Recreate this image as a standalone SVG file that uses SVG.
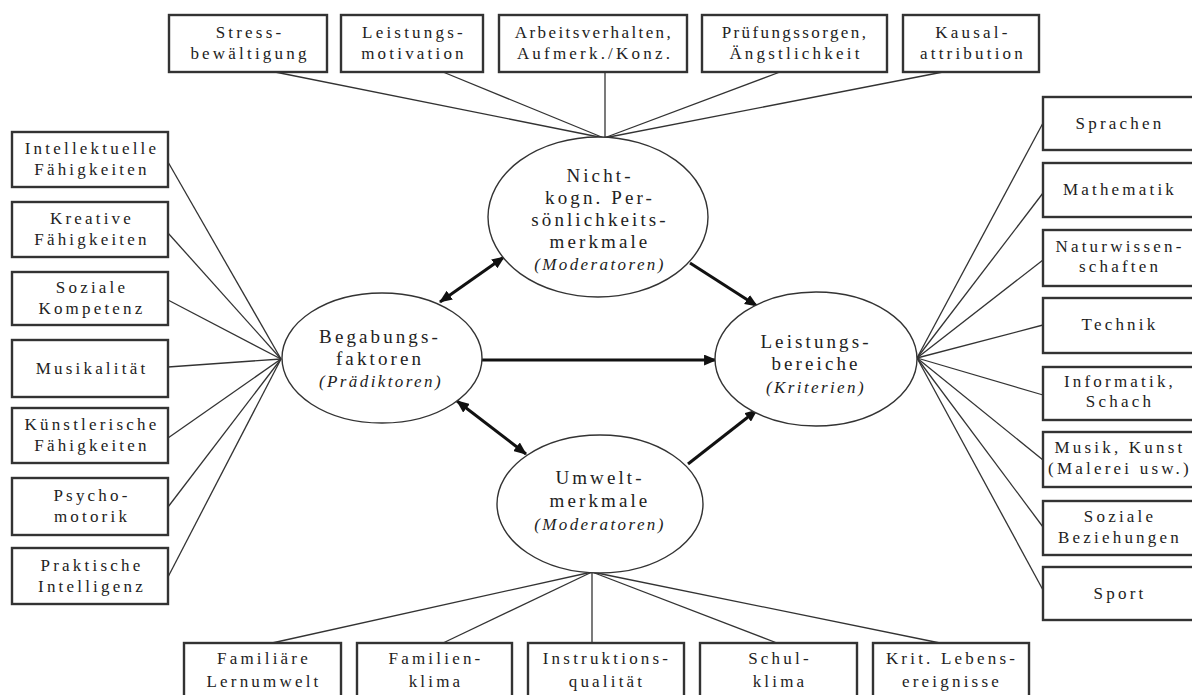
<svg xmlns="http://www.w3.org/2000/svg" width="1192" height="695" viewBox="0 0 1192 695">
  <style>
    .box { fill: #fff; stroke: #333; stroke-width: 2.4; }
    .ell { fill: #fff; stroke: #333; stroke-width: 1.4; }
    .link { stroke: #333; stroke-width: 1.3; fill: none; }
    .arrow { stroke: #111; stroke-width: 3; fill: none; }
    .t { font-family: "Liberation Serif", "Times New Roman", serif; font-size: 17px; letter-spacing: 3.2px; fill: #222; text-anchor: middle; }
    .tight { letter-spacing: 2.4px; }
    .e { font-family: "Liberation Serif", "Times New Roman", serif; font-size: 19px; letter-spacing: 3.1px; fill: #222; text-anchor: middle; }
    .i { font-family: "Liberation Serif", "Times New Roman", serif; font-size: 17px; font-style: italic; letter-spacing: 2.4px; fill: #222; text-anchor: middle; }
  </style>
  <defs>
    <marker id="head" viewBox="0 0 12 10" refX="11" refY="5" markerWidth="13" markerHeight="11" markerUnits="userSpaceOnUse" orient="auto-start-reverse">
      <path d="M0,0 L12,5 L0,10 z" fill="#111"/>
    </marker>
  </defs>
  <rect width="1192" height="695" fill="#fff"/>

  <!-- connectors -->
  <g id="connectors">
    <!-- top fan into the personality ellipse -->
    <line class="link" x1="275" y1="72" x2="604" y2="138"/>
    <line class="link" x1="443" y1="72" x2="604" y2="138"/>
    <line class="link" x1="605" y1="72" x2="605" y2="138"/>
    <line class="link" x1="780" y1="72" x2="604" y2="138"/>
    <line class="link" x1="943" y1="72" x2="604" y2="138"/>
    <!-- left fan into the ability ellipse -->
    <line class="link" x1="168" y1="162" x2="281" y2="359"/>
    <line class="link" x1="168" y1="233" x2="281" y2="359"/>
    <line class="link" x1="168" y1="300" x2="281" y2="359"/>
    <line class="link" x1="168" y1="367" x2="281" y2="359"/>
    <line class="link" x1="168" y1="438" x2="281" y2="359"/>
    <line class="link" x1="168" y1="507" x2="281" y2="359"/>
    <line class="link" x1="168" y1="577" x2="281" y2="359"/>
    <!-- right fan out of the performance ellipse -->
    <line class="link" x1="1043" y1="123" x2="917" y2="358"/>
    <line class="link" x1="1043" y1="193" x2="917" y2="358"/>
    <line class="link" x1="1043" y1="260" x2="917" y2="358"/>
    <line class="link" x1="1043" y1="325" x2="917" y2="358"/>
    <line class="link" x1="1043" y1="395" x2="917" y2="358"/>
    <line class="link" x1="1043" y1="460" x2="917" y2="358"/>
    <line class="link" x1="1043" y1="527" x2="917" y2="358"/>
    <line class="link" x1="1043" y1="590" x2="917" y2="358"/>
    <!-- bottom fan out of the environment ellipse -->
    <line class="link" x1="592" y1="572" x2="272" y2="643"/>
    <line class="link" x1="592" y1="572" x2="443" y2="643"/>
    <line class="link" x1="592" y1="572" x2="592" y2="643"/>
    <line class="link" x1="592" y1="572" x2="777" y2="643"/>
    <line class="link" x1="592" y1="572" x2="940" y2="643"/>
    <!-- central arrows -->
    <line class="arrow" x1="440" y1="302" x2="504" y2="257" marker-start="url(#head)" marker-end="url(#head)"/>
    <line class="arrow" x1="690" y1="263" x2="757" y2="306" marker-end="url(#head)"/>
    <line class="arrow" x1="482" y1="360" x2="716" y2="360" marker-end="url(#head)"/>
    <line class="arrow" x1="457" y1="401" x2="526" y2="454" marker-start="url(#head)" marker-end="url(#head)"/>
    <line class="arrow" x1="688" y1="464" x2="757" y2="410" marker-end="url(#head)"/>
  </g>

  <!-- top row: personality traits -->
  <g id="top-stress"><rect class="box" x="169" y="15" width="158" height="57"/><text class="t" x="250" y="38">Stress-</text><text class="t" x="250" y="59">bewältigung</text></g>
  <g id="top-motivation"><rect class="box" x="341" y="15" width="142" height="57"/><text class="t" x="414" y="38">Leistungs-</text><text class="t" x="414" y="59">motivation</text></g>
  <g id="top-arbeit"><rect class="box" x="499" y="15" width="188" height="57"/><text class="t tight" x="594" y="38">Arbeitsverhalten,</text><text class="t" x="595" y="59">Aufmerk./Konz.</text></g>
  <g id="top-angst"><rect class="box" x="702" y="15" width="185" height="57"/><text class="t tight" x="795" y="38">Prüfungssorgen,</text><text class="t" x="796" y="59">Ängstlichkeit</text></g>
  <g id="top-kausal"><rect class="box" x="903" y="15" width="136" height="57"/><text class="t" x="973" y="38">Kausal-</text><text class="t" x="973" y="59">attribution</text></g>

  <!-- left column: abilities -->
  <g id="left-intellekt"><rect class="box" x="12" y="132" width="156" height="55"/><text class="t" x="92" y="154">Intellektuelle</text><text class="t" x="92" y="175">Fähigkeiten</text></g>
  <g id="left-kreativ"><rect class="box" x="12" y="202" width="156" height="55"/><text class="t" x="92" y="224">Kreative</text><text class="t" x="92" y="245">Fähigkeiten</text></g>
  <g id="left-sozial"><rect class="box" x="12" y="272" width="156" height="53"/><text class="t" x="92" y="293">Soziale</text><text class="t" x="92" y="314">Kompetenz</text></g>
  <g id="left-musik"><rect class="box" x="12" y="340" width="156" height="57"/><text class="t" x="92" y="374">Musikalität</text></g>
  <g id="left-kunst"><rect class="box" x="12" y="408" width="156" height="55"/><text class="t" x="92" y="430">Künstlerische</text><text class="t" x="92" y="451">Fähigkeiten</text></g>
  <g id="left-psycho"><rect class="box" x="12" y="478" width="156" height="57"/><text class="t" x="92" y="501">Psycho-</text><text class="t" x="92" y="522">motorik</text></g>
  <g id="left-praktisch"><rect class="box" x="12" y="548" width="156" height="56"/><text class="t" x="92" y="571">Praktische</text><text class="t" x="92" y="592">Intelligenz</text></g>

  <!-- right column: performance domains -->
  <g id="right-sprachen"><rect class="box" x="1043" y="97" width="160" height="53"/><text class="t" x="1120" y="129">Sprachen</text></g>
  <g id="right-mathe"><rect class="box" x="1043" y="163" width="160" height="54"/><text class="t" x="1120" y="195">Mathematik</text></g>
  <g id="right-natur"><rect class="box" x="1043" y="230" width="160" height="56"/><text class="t" x="1120" y="252">Naturwissen-</text><text class="t" x="1120" y="272">schaften</text></g>
  <g id="right-technik"><rect class="box" x="1043" y="298" width="160" height="55"/><text class="t" x="1120" y="330">Technik</text></g>
  <g id="right-informatik"><rect class="box" x="1043" y="367" width="160" height="53"/><text class="t" x="1120" y="387">Informatik,</text><text class="t" x="1120" y="407">Schach</text></g>
  <g id="right-kunst"><rect class="box" x="1043" y="432" width="160" height="55"/><text class="t" x="1120" y="453">Musik, Kunst</text><text class="t" x="1120" y="474">(Malerei usw.)</text></g>
  <g id="right-sozial"><rect class="box" x="1043" y="501" width="160" height="54"/><text class="t" x="1120" y="522">Soziale</text><text class="t" x="1120" y="543">Beziehungen</text></g>
  <g id="right-sport"><rect class="box" x="1043" y="567" width="160" height="53"/><text class="t" x="1120" y="599">Sport</text></g>

  <!-- bottom row: environment -->
  <g id="bottom-lernumwelt"><rect class="box" x="184" y="643" width="157" height="60"/><text class="t" x="264" y="664">Familiäre</text><text class="t" x="264" y="687">Lernumwelt</text></g>
  <g id="bottom-familienklima"><rect class="box" x="357" y="643" width="155" height="60"/><text class="t" x="436" y="664">Familien-</text><text class="t" x="436" y="687">klima</text></g>
  <g id="bottom-instruktion"><rect class="box" x="528" y="643" width="156" height="60"/><text class="t" x="607" y="664">Instruktions-</text><text class="t" x="607" y="687">qualität</text></g>
  <g id="bottom-schulklima"><rect class="box" x="700" y="643" width="157" height="60"/><text class="t" x="780" y="664">Schul-</text><text class="t" x="780" y="687">klima</text></g>
  <g id="bottom-lebensereignisse"><rect class="box" x="873" y="643" width="156" height="60"/><text class="t" x="952" y="664">Krit. Lebens-</text><text class="t" x="952" y="687">ereignisse</text></g>

  <!-- central ellipses -->
  <g id="node-persoenlichkeit">
    <ellipse class="ell" cx="598" cy="217" rx="110" ry="80"/>
    <text class="e" x="600" y="182">Nicht-</text>
    <text class="e" x="600" y="204">kogn. Per-</text>
    <text class="e" x="600" y="226">sönlichkeits-</text>
    <text class="e" x="600" y="248">merkmale</text>
    <text class="i" x="600" y="270">(Moderatoren)</text>
  </g>
  <g id="node-begabung">
    <ellipse class="ell" cx="382" cy="358" rx="100" ry="65"/>
    <text class="e" x="380" y="343">Begabungs-</text>
    <text class="e" x="380" y="365">faktoren</text>
    <text class="i" x="381" y="387">(Prädiktoren)</text>
  </g>
  <g id="node-leistung">
    <ellipse class="ell" cx="816" cy="359" rx="101" ry="67"/>
    <text class="e" x="816" y="348">Leistungs-</text>
    <text class="e" x="816" y="370">bereiche</text>
    <text class="i" x="816" y="393">(Kriterien)</text>
  </g>
  <g id="node-umwelt">
    <ellipse class="ell" cx="600" cy="504" rx="103" ry="69"/>
    <text class="e" x="600" y="484">Umwelt-</text>
    <text class="e" x="600" y="507">merkmale</text>
    <text class="i" x="600" y="530">(Moderatoren)</text>
  </g>
</svg>
